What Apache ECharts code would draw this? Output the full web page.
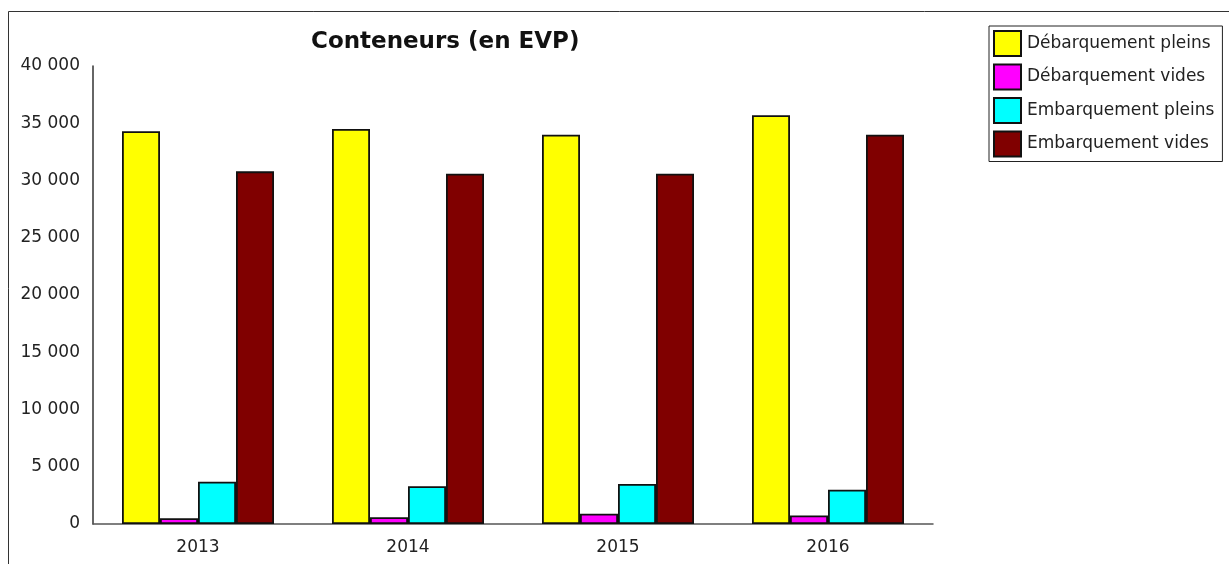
<!DOCTYPE html>
<html>
<head>
<meta charset="utf-8">
<script src="https://cdn.jsdelivr.net/npm/echarts@6/dist/echarts.min.js"></script>
<style>
  html, body { margin: 0; padding: 0; background: #fff; }
  #chart { width: 1229px; height: 564px; }
</style>
</head>
<body>
<div id="chart"></div>
<script>
// valeurs (EVP)
var years = ['2013', '2014', '2015', '2016'];
var debPleins = [34300, 34500, 34000, 35700];
var debVides = [500, 600, 900, 750];
var embPleins = [3700, 3300, 3500, 3000];
var embVides = [30800, 30600, 30600, 34000];
var yTicks = [0, 5000, 10000, 15000, 20000, 25000, 30000, 35000, 40000];

var seriesNames = ['Débarquement pleins', 'Débarquement vides', 'Embarquement pleins', 'Embarquement vides'];
var seriesColors = ['#ffff00', '#ff00ff', '#00ffff', '#800000'];
var seriesData = [debPleins, debVides, embPleins, embVides];

function fmt(v) {
  // espace comme séparateur de milliers
  return String(v).replace(/\B(?=(\d{3})+(?!\d))/g, ' ');
}

var chart = echarts.init(document.getElementById('chart'));

var series = seriesNames.map(function (name, i) {
  return {
    name: name,
    type: 'bar',
    data: seriesData[i],
    barWidth: 38,
    barGap: '0%',
    itemStyle: {color: seriesColors[i], borderColor: '#111', borderWidth: 1.8},
    emphasis: {disabled: true}
  };
});

chart.setOption({
  animation: false,
  graphic: [{
    type: 'rect',
    shape: {x: 8.5, y: 11.5, width: 1400, height: 700},
    style: {fill: 'none', stroke: '#333', lineWidth: 1}
  }],
  title: {
    text: 'Conteneurs (en EVP)',
    left: 306,
    top: 26,
    textStyle: {fontFamily: 'DejaVu Sans', fontWeight: 'bold', fontSize: 23, color: '#111'}
  },
  legend: {
    orient: 'vertical',
    left: 989,
    top: 26,
    width: 238,
    padding: [4, 8, 4, 4],
    itemWidth: 27,
    itemHeight: 25,
    itemGap: 6.5,
    icon: 'rect',
    borderColor: '#222',
    borderWidth: 1,
    textStyle: {fontFamily: 'DejaVu Sans', fontSize: 17, color: '#222', padding: [0, 0, 0, 1]},
    data: seriesNames
  },
  grid: {left: 93, top: 66, right: 296, bottom: 40},
  xAxis: {
    type: 'category',
    data: years,
    axisLine: {lineStyle: {color: '#555', width: 1.5}},
    axisTick: {show: false},
    axisLabel: {fontFamily: 'DejaVu Sans', fontSize: 17, color: '#222', margin: 15}
  },
  yAxis: {
    type: 'value',
    min: yTicks[0],
    max: yTicks[yTicks.length - 1],
    interval: 5000,
    axisLine: {show: true, lineStyle: {color: '#333', width: 1.5}},
    axisTick: {show: false},
    splitLine: {show: false},
    axisLabel: {fontFamily: 'DejaVu Sans', fontSize: 17, color: '#222', margin: 13, formatter: fmt}
  },
  series: series
});
</script>
</body>
</html>
